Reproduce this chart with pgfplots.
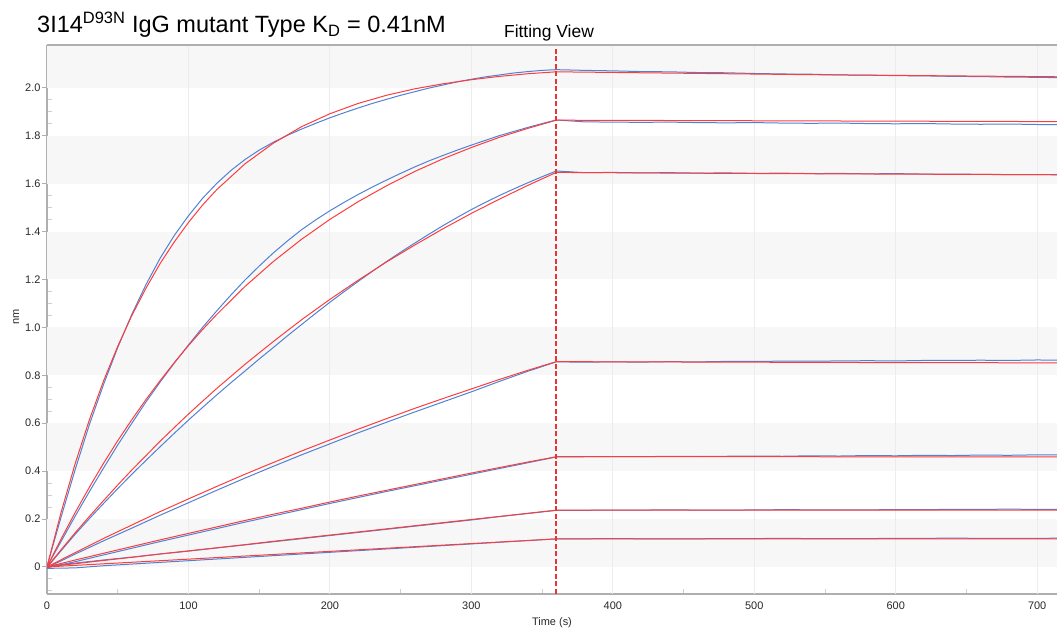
\documentclass[border=0pt]{standalone}
\usepackage{fontspec}
\setmainfont{Liberation Sans}
\usepackage{pgfplots}
\pgfplotsset{compat=1.18}
\definecolor{fitred}{RGB}{255,60,60}
\definecolor{datablue}{RGB}{80,130,212}
\definecolor{bandgray}{RGB}{247,247,248}
\definecolor{gridgray}{RGB}{236,236,240}
\definecolor{axgray}{RGB}{175,175,178}
\definecolor{minorgray}{RGB}{205,205,215}
\definecolor{labgray}{RGB}{40,40,40}
\begin{document}
\begin{tikzpicture}[x=1bp,y=1bp]
\useasboundingbox (0,0) rectangle (1057,633);
\begin{axis}[
  at={(47bp,39bp)}, anchor=south west,
  scale only axis, width=1010bp, height=549bp,
  xmin=0, xmax=714, ymin=-0.113, ymax=2.179,
  axis x line*=bottom, axis y line*=left,
  axis line style={draw=axgray, line width=1.3bp, -},
  clip mode=individual,
  xtick={0,100,200,300,400,500,600,700},
  xticklabels={0,100,200,300,400,500,600,700},
  ytick={0,0.2,0.4,0.6,0.8,1.0,1.2,1.4,1.6,1.8,2.0},
  yticklabels={0,0.2,0.4,0.6,0.8,1.0,1.2,1.4,1.6,1.8,2.0},
  minor xtick={50,150,250,350,450,550,650},
  minor ytick={-0.1,-0.05,0.05,0.1,0.15,0.25,0.3,0.35,0.45,0.5,0.55,0.65,0.7,0.75,0.85,0.9,0.95,1.05,1.1,1.15,1.25,1.3,1.35,1.45,1.5,1.55,1.65,1.7,1.75,1.85,1.9,1.95,2.05,2.1,2.15},
  tick align=inside,
  major tick length=0pt,
  minor tick length=5bp,
  minor tick style={draw=minorgray, line width=0.9bp},
  tick label style={font=\fontsize{11}{13}\selectfont, text=labgray},
  xticklabel style={yshift=-4bp},
  yticklabel style={xshift=-3bp},
]
% background bands
\fill[bandgray] (axis cs:0,0) rectangle (axis cs:714,0.2);
\fill[bandgray] (axis cs:0,0.4) rectangle (axis cs:714,0.6);
\fill[bandgray] (axis cs:0,0.8) rectangle (axis cs:714,1.0);
\fill[bandgray] (axis cs:0,1.2) rectangle (axis cs:714,1.4);
\fill[bandgray] (axis cs:0,1.6) rectangle (axis cs:714,1.8);
\fill[bandgray] (axis cs:0,2.0) rectangle (axis cs:714,2.179);
% vertical grid
\pgfplotsinvokeforeach{100,200,300,400,500,600,700}{
  \draw[gridgray, line width=0.9bp] (axis cs:#1,-0.113) -- (axis cs:#1,2.179);
}
% y major ticks (outside)
\pgfplotsinvokeforeach{0,0.2,0.4,0.6,0.8,1.0,1.2,1.4,1.6,1.8,2.0}{
  \draw[axgray, line width=1bp] (axis cs:0,#1) -- ([xshift=-5bp]axis cs:0,#1);
}

% ---------------- data (blue) ----------------
\addplot[datablue, line width=1bp] coordinates {
(0,0.002)(10,0.209)(20,0.408)(30,0.595)(40,0.762)(50,0.916)(60,1.055)(70,1.179)(80,1.289)(90,1.384)(100,1.466)(110,1.539)(120,1.601)(130,1.655)(140,1.701)(150,1.740)(160,1.773)(170,1.802)(180,1.828)(190,1.852)(200,1.875)(210,1.896)(220,1.916)(230,1.935)(240,1.952)(250,1.969)(260,1.984)(270,1.999)(280,2.012)(290,2.025)(300,2.036)(310,2.046)(320,2.054)(330,2.062)(340,2.068)(350,2.073)(360,2.076)
(380,2.073)(400,2.071)(420,2.068)(440,2.067)(460,2.064)(480,2.063)(500,2.060)(520,2.058)(540,2.057)(560,2.054)(580,2.053)(600,2.051)(620,2.050)(640,2.048)(660,2.047)(680,2.045)(700,2.044)(720,2.042)};
\addplot[datablue, line width=1bp] coordinates {
(0,0.001)(10,0.107)(20,0.213)(30,0.315)(40,0.413)(50,0.509)(60,0.600)(70,0.689)(80,0.772)(90,0.851)(100,0.927)(110,1.000)(120,1.069)(130,1.135)(140,1.198)(150,1.256)(160,1.311)(170,1.361)(180,1.408)(190,1.449)(200,1.487)(210,1.522)(220,1.555)(230,1.586)(240,1.615)(250,1.643)(260,1.670)(270,1.695)(280,1.718)(290,1.740)(300,1.761)(310,1.781)(320,1.801)(330,1.818)(340,1.835)(350,1.851)(360,1.866)
(380,1.858)(400,1.857)(420,1.856)(440,1.857)(460,1.855)(480,1.854)(500,1.855)(520,1.853)(540,1.852)(560,1.853)(580,1.851)(600,1.850)(620,1.851)(640,1.849)(660,1.848)(680,1.849)(700,1.847)(720,1.846)};
\addplot[datablue, line width=1bp] coordinates {
(0,-0.002)(10,0.068)(20,0.137)(30,0.202)(40,0.265)(50,0.327)(60,0.387)(70,0.445)(80,0.502)(90,0.558)(100,0.613)(110,0.666)(120,0.718)(130,0.769)(140,0.818)(150,0.868)(160,0.916)(170,0.965)(180,1.012)(190,1.059)(200,1.105)(210,1.149)(220,1.192)(230,1.234)(240,1.275)(250,1.314)(260,1.352)(270,1.389)(280,1.425)(290,1.459)(300,1.492)(310,1.522)(320,1.551)(330,1.578)(340,1.604)(350,1.629)(360,1.653)
(380,1.646)(400,1.647)(420,1.645)(440,1.646)(460,1.644)(480,1.645)(500,1.643)(520,1.644)(540,1.642)(560,1.643)(580,1.641)(600,1.642)(620,1.640)(640,1.640)(660,1.639)(680,1.638)(700,1.638)(720,1.637)};
\addplot[datablue, line width=1bp] coordinates {
(0,-0.003)(20,0.054)(40,0.109)(60,0.162)(80,0.216)(100,0.268)(120,0.320)(140,0.371)(160,0.420)(180,0.468)(200,0.514)(220,0.560)(240,0.604)(260,0.647)(280,0.689)(300,0.731)(320,0.775)(340,0.817)(360,0.856)
(380,0.855)(400,0.856)(420,0.855)(440,0.857)(460,0.856)(480,0.858)(500,0.858)(520,0.859)(540,0.859)(560,0.860)(580,0.861)(600,0.860)(620,0.862)(640,0.862)(660,0.863)(680,0.862)(700,0.864)(720,0.863)};
\addplot[datablue, line width=1bp] coordinates {
(0,-0.004)(20,0.022)(40,0.050)(60,0.078)(80,0.106)(100,0.133)(120,0.160)(140,0.187)(160,0.213)(180,0.239)(200,0.265)(220,0.290)(240,0.315)(260,0.339)(280,0.363)(300,0.387)(320,0.411)(340,0.435)(360,0.459)
(380,0.460)(400,0.461)(420,0.460)(440,0.462)(460,0.461)(480,0.462)(500,0.463)(520,0.462)(540,0.464)(560,0.463)(580,0.465)(600,0.464)(620,0.466)(640,0.465)(660,0.467)(680,0.466)(700,0.468)(720,0.467)};
\addplot[datablue, line width=1bp] coordinates {
(0,0.003)(20,0.016)(40,0.029)(60,0.041)(80,0.054)(100,0.066)(120,0.079)(140,0.092)(160,0.105)(180,0.118)(200,0.131)(220,0.144)(240,0.157)(260,0.170)(280,0.183)(300,0.196)(320,0.210)(340,0.223)(360,0.236)
(400,0.237)(440,0.238)(480,0.237)(520,0.239)(560,0.238)(600,0.239)(640,0.240)(680,0.241)(720,0.240)};
\addplot[datablue, line width=1bp] coordinates {
(0,-0.006)(20,-0.004)(40,0.005)(80,0.019)(120,0.033)(160,0.047)(200,0.061)(240,0.075)(280,0.089)(320,0.103)(360,0.117)
(400,0.118)(440,0.117)(480,0.118)(520,0.119)(560,0.118)(600,0.119)(640,0.120)(680,0.119)(720,0.120)};

% ---------------- fits (red) ----------------
\addplot[fitred, line width=1bp] coordinates {
(0,0)(10,0.229)(20,0.433)(30,0.615)(40,0.777)(50,0.921)(60,1.050)(70,1.164)(80,1.267)(90,1.357)(100,1.438)(110,1.511)(120,1.575)(140,1.683)(160,1.769)(180,1.838)(200,1.892)(220,1.935)(240,1.969)(260,1.996)(280,2.017)(300,2.034)(320,2.048)(340,2.059)(360,2.067)
(420,2.063)(480,2.059)(540,2.055)(600,2.052)(660,2.049)(720,2.046)};
\addplot[fitred, line width=1bp] coordinates {
(0,0)(10,0.117)(20,0.228)(30,0.333)(40,0.433)(50,0.527)(60,0.615)(70,0.699)(80,0.778)(90,0.853)(100,0.924)(110,0.991)(120,1.054)(140,1.171)(160,1.275)(180,1.368)(200,1.451)(220,1.525)(240,1.591)(260,1.651)(280,1.704)(300,1.751)(320,1.794)(340,1.831)(360,1.865)
(480,1.863)(600,1.861)(720,1.859)};
\addplot[fitred, line width=1bp] coordinates {
(0,0)(10,0.072)(20,0.143)(30,0.211)(40,0.277)(50,0.342)(60,0.405)(70,0.465)(80,0.525)(90,0.582)(100,0.638)(110,0.692)(120,0.745)(140,0.846)(160,0.941)(180,1.032)(200,1.117)(220,1.197)(240,1.273)(260,1.344)(280,1.412)(300,1.476)(320,1.536)(340,1.593)(360,1.647)
(480,1.643)(600,1.640)(720,1.637)};
\addplot[fitred, line width=1bp] coordinates {
(0,0)(20,0.060)(40,0.119)(60,0.175)(80,0.231)(100,0.284)(120,0.336)(140,0.387)(160,0.436)(180,0.484)(200,0.530)(220,0.575)(240,0.619)(260,0.662)(280,0.703)(300,0.743)(320,0.783)(340,0.821)(360,0.857)
(480,0.855)(600,0.853)(720,0.852)};
\addplot[fitred, line width=1bp] coordinates {
(0,0)(20,0.029)(40,0.057)(60,0.085)(80,0.113)(100,0.140)(120,0.167)(140,0.194)(160,0.220)(180,0.245)(200,0.271)(220,0.296)(240,0.320)(260,0.344)(280,0.368)(300,0.392)(320,0.415)(340,0.438)(360,0.460)
(540,0.460)(720,0.459)};
\addplot[fitred, line width=1bp] coordinates {
(0,0)(20,0.0135)(40,0.027)(60,0.040)(80,0.054)(100,0.067)(120,0.080)(140,0.093)(160,0.107)(180,0.120)(200,0.133)(220,0.146)(240,0.159)(260,0.172)(280,0.185)(300,0.198)(320,0.211)(340,0.224)(360,0.237)
(720,0.237)};
\addplot[fitred, line width=1bp] coordinates {
(0,0)(40,0.013)(80,0.026)(120,0.039)(160,0.052)(200,0.065)(240,0.078)(280,0.091)(320,0.104)(360,0.117)
(720,0.117)};

% dashed fitting line and top border
\draw[fitred!90!black, line width=2bp, dash pattern=on 5bp off 2.5bp] (axis cs:360,-0.113) -- (axis cs:360,2.179);
\draw[axgray, line width=1.3bp] (axis cs:0,2.179) -- (axis cs:714,2.179);
\end{axis}
\node[anchor=base west, font=\fontsize{23.6}{28}\selectfont, inner sep=0pt] at (37,600) {3I14\textsuperscript{D93N} IgG mutant Type K\textsubscript{D} = 0.41nM};
\node[anchor=base, font=\fontsize{17.5}{20}\selectfont, inner sep=0pt] at (549,595) {Fitting View};
\node[anchor=base, font=\fontsize{11}{13}\selectfont, text=labgray, inner sep=0pt] at (552,7) {Time (s)};
\node[anchor=base, rotate=90, font=\fontsize{11}{13}\selectfont, text=labgray, inner sep=0pt] at (19,316) {nm};
\end{tikzpicture}
\end{document}
